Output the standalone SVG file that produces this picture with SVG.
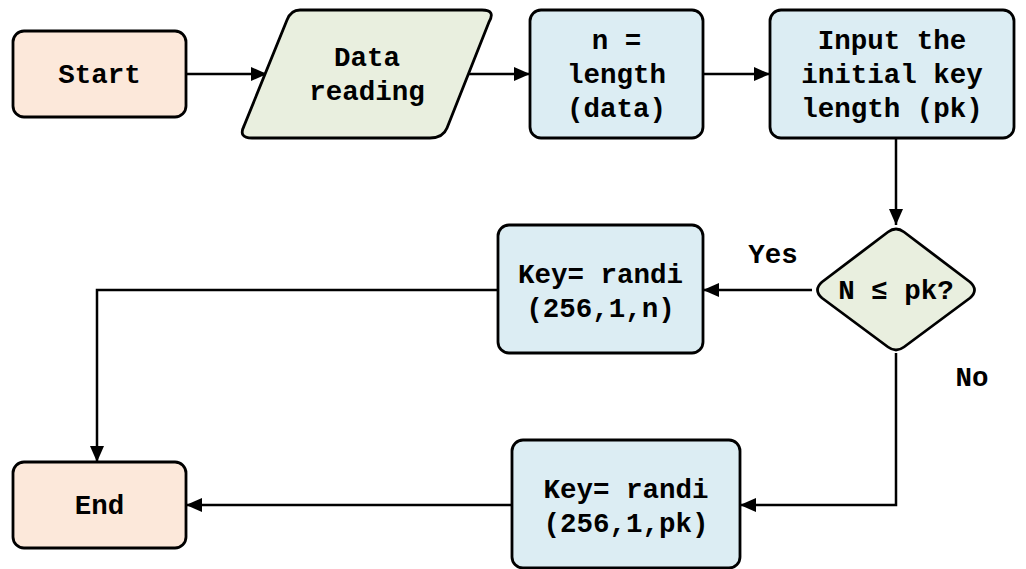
<svg xmlns="http://www.w3.org/2000/svg" width="1026" height="569" viewBox="0 0 1026 569">
  <defs>
    <marker id="arrow" viewBox="0 0 16 14" refX="16" refY="7" markerWidth="16" markerHeight="14" markerUnits="userSpaceOnUse" orient="auto">
      <path d="M0,0 L16,7 L0,14 z" fill="#000"/>
    </marker>
    <style>
      .shape { stroke: #000; stroke-width: 2.8; stroke-linejoin: round; }
      .term { fill: #fce8da; }
      .io { fill: #e9efdf; }
      .proc { fill: #dcedf3; }
      .lbl { font-family: "Liberation Mono", "Courier New", monospace; font-weight: bold; font-size: 27.5px; fill: #000; text-anchor: middle; }
      .edge { fill: none; stroke: #000; stroke-width: 2.5; marker-end: url(#arrow); }
    </style>
  </defs>

  <g id="connectors">
    <path class="edge" d="M186,74 H267"/>
    <path class="edge" d="M466,74 H530"/>
    <path class="edge" d="M703,74 H770"/>
    <path class="edge" d="M896,138 V225"/>
    <path class="edge" d="M812,290 H703"/>
    <path class="edge" d="M498,290 H97 V462"/>
    <path class="edge" d="M896,353 V505 H740"/>
    <path class="edge" d="M512,505 H186"/>
    <text class="lbl" x="773" y="263">Yes</text>
    <text class="lbl" x="972" y="386">No</text>
  </g>

  <g id="start">
    <rect class="shape term" x="13" y="31" width="173" height="86" rx="11"/>
    <text class="lbl" x="99.5" y="83">Start</text>
  </g>

  <g id="data-reading">
    <path class="shape io" d="M300,10 H482 Q496,10 489,22 L447,128 Q443,138 430,138 H252 Q238,138 244,126 L287,20 Q291,10 300,10 Z"/>
    <text class="lbl" x="367" y="66">Data</text>
    <text class="lbl" x="367" y="100">reading</text>
  </g>

  <g id="n-length">
    <rect class="shape proc" x="530" y="10" width="173" height="128" rx="11"/>
    <text class="lbl" x="616.5" y="49">n =</text>
    <text class="lbl" x="616.5" y="83">length</text>
    <text class="lbl" x="616.5" y="117">(data)</text>
  </g>

  <g id="input-pk">
    <rect class="shape proc" x="770" y="10" width="244" height="128" rx="11"/>
    <text class="lbl" x="892" y="49">Input the</text>
    <text class="lbl" x="892" y="83">initial key</text>
    <text class="lbl" x="892" y="117">length (pk)</text>
  </g>

  <g id="decision">
    <path class="shape io" d="M888,232 Q896,226 904,232 L970,282 Q979,290 970,298 L904,347 Q896,353 888,347 L822,298 Q813,290 822,282 Z"/>
    <text class="lbl" x="896" y="299">N ≤ pk?</text>
  </g>

  <g id="key-n">
    <rect class="shape proc" x="498" y="225" width="205" height="128" rx="11"/>
    <text class="lbl" x="600.5" y="283">Key= randi</text>
    <text class="lbl" x="600.5" y="317">(256,1,n)</text>
  </g>

  <g id="key-pk">
    <rect class="shape proc" x="512" y="440" width="228" height="128" rx="11"/>
    <text class="lbl" x="626" y="498">Key= randi</text>
    <text class="lbl" x="626" y="532">(256,1,pk)</text>
  </g>

  <g id="end">
    <rect class="shape term" x="13" y="462" width="173" height="86" rx="11"/>
    <text class="lbl" x="99.5" y="514">End</text>
  </g>
</svg>
